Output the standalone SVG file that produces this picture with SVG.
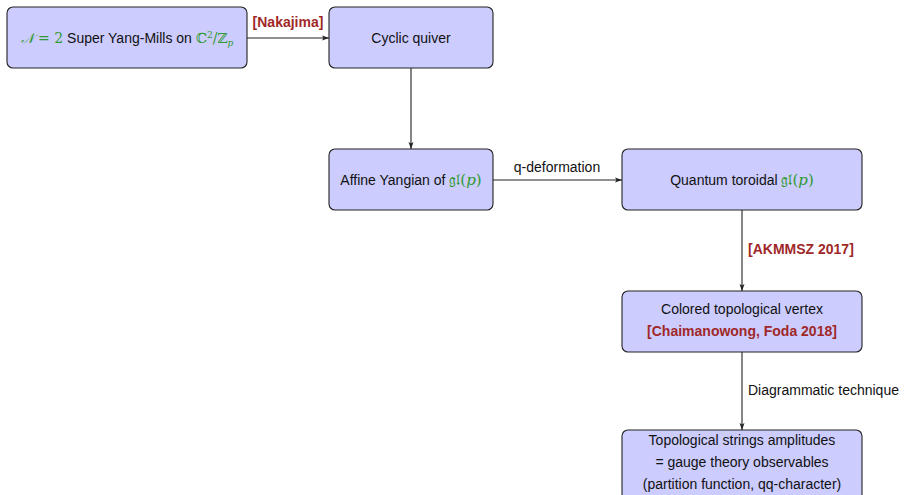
<svg xmlns="http://www.w3.org/2000/svg" width="907" height="495" viewBox="0 0 907 495">
<defs>
<marker id="ah" markerWidth="8" markerHeight="6" refX="7" refY="3" orient="auto" markerUnits="userSpaceOnUse">
<path d="M0,0.5 L7,3 L0,5.5 L1.5,3 Z" fill="#222"/>
</marker>
<style>
.box{fill:#ccccff;stroke:#222;stroke-width:1.1}
.t{font-family:"Liberation Sans",Arial,sans-serif;font-size:14px;fill:#111;text-anchor:middle}
.l{font-family:"Liberation Sans",Arial,sans-serif;font-size:14px;fill:#111}
.g{fill:#2f9a2f}
.r{fill:#a02828;font-weight:bold}
.m{font-family:"DejaVu Serif","Liberation Serif",serif}
.e{stroke:#222;stroke-width:1.1;fill:none;marker-end:url(#ah)}
</style>
</defs>
<g id="connectors">
<line class="e" x1="247" y1="38" x2="329" y2="38"/>
<line class="e" x1="411" y1="68" x2="411" y2="149"/>
<line class="e" x1="493" y1="180" x2="622" y2="180"/>
<line class="e" x1="742" y1="210" x2="742" y2="291"/>
<line class="e" x1="742" y1="352" x2="742" y2="430"/>
<text class="t r" x="288" y="27" font-size="12.5">[Nakajima]</text>
<text class="t" x="557" y="172">q-deformation</text>
<text class="l r" x="748" y="254" font-size="12.5">[AKMMSZ 2017]</text>
<text class="l" x="748" y="395">Diagrammatic technique</text>
</g>
<g id="n1">
<rect class="box" x="7" y="7" width="240" height="61" rx="6"/>
<text class="t" x="127" y="43"><tspan class="g m" font-style="italic">𝒩</tspan><tspan class="g m"> = 2</tspan> Super Yang-Mills on <tspan class="g m">ℂ<tspan font-size="9" dy="-5">2</tspan><tspan dy="5">/ℤ</tspan><tspan font-size="9" dy="3" font-style="italic">p</tspan></tspan></text>
</g>
<g id="n2">
<rect class="box" x="329" y="7" width="164" height="61" rx="6"/>
<text class="t" x="411" y="43">Cyclic quiver</text>
</g>
<g id="n3">
<rect class="box" x="329" y="149" width="164" height="61" rx="6"/>
<text class="t" x="411" y="185">Affine Yangian of <tspan class="g m" font-size="15">𝔤𝔩(<tspan font-style="italic">p</tspan>)</tspan></text>
</g>
<g id="n4">
<rect class="box" x="622" y="149" width="240" height="61" rx="6"/>
<text class="t" x="742" y="185">Quantum toroidal <tspan class="g m" font-size="15">𝔤𝔩(<tspan font-style="italic">p</tspan>)</tspan></text>
</g>
<g id="n5">
<rect class="box" x="622" y="291" width="240" height="61" rx="6"/>
<text class="t" x="742" y="314">Colored topological vertex</text>
<text class="t r" x="742" y="336" font-size="12.5">[Chaimanowong, Foda 2018]</text>
</g>
<g id="n6">
<rect class="box" x="622" y="430" width="240" height="70" rx="6"/>
<text class="t" x="742" y="445">Topological strings amplitudes</text>
<text class="t" x="742" y="467">= gauge theory observables</text>
<text class="t" x="742" y="489">(partition function, qq-character)</text>
</g>
</svg>
